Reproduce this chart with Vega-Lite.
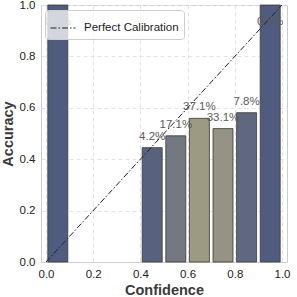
{
  "$schema": "https://vega.github.io/schema/vega-lite/v6.json",
  "width": 246,
  "height": 257,
  "autosize": {"type": "none"},
  "padding": {"left": 41, "top": 5, "right": 10, "bottom": 35},
  "config": {
    "font": "Liberation Sans",
    "view": {"stroke": "#cccccc", "strokeWidth": 1},
    "axis": {
      "domainColor": "#cccccc",
      "ticks": false,
      "gridColor": "#e2e2e2",
      "gridDash": [4, 3],
      "labelFontSize": 11.5,
      "labelColor": "#222222",
      "labelPadding": 6,
      "titleFontSize": 14.5,
      "titleFontWeight": "bold",
      "titleColor": "#3a3a3a"
    }
  },
  "layer": [
    {
      "data": {
        "values": [
          {"conf": 0.05, "acc": 1.0, "pct": 0.2, "label": "0.2%"},
          {"conf": 0.45, "acc": 0.445, "pct": 4.2, "label": "4.2%"},
          {"conf": 0.55, "acc": 0.491, "pct": 17.1, "label": "17.1%"},
          {"conf": 0.65, "acc": 0.559, "pct": 37.1, "label": "37.1%"},
          {"conf": 0.75, "acc": 0.519, "pct": 33.1, "label": "33.1%"},
          {"conf": 0.85, "acc": 0.581, "pct": 7.8, "label": "7.8%"},
          {"conf": 0.95, "acc": 1.0, "pct": 0.5, "label": "0.5%"}
        ]
      },
      "layer": [
        {
          "mark": {"type": "bar", "size": 20, "stroke": "#3a3a3a", "strokeWidth": 1, "strokeOpacity": 0.8},
          "encoding": {
            "x": {"field": "conf", "type": "quantitative", "scale": {"domain": [0, 1], "nice": false, "zero": false}, "axis": {"values": [0, 0.2, 0.4, 0.6, 0.8, 1.0], "format": ".1f", "title": "Confidence", "titlePadding": 4}},
            "y": {"field": "acc", "type": "quantitative", "scale": {"domain": [0, 1], "nice": false}, "axis": {"values": [0, 0.2, 0.4, 0.6, 0.8, 1.0], "format": ".1f", "title": "Accuracy", "titlePadding": 4}},
            "y2": {"datum": 0},
            "color": {"field": "pct", "type": "quantitative", "scale": {"domain": [0, 37.1], "range": ["#4f5b7f", "#9d9a83"], "interpolate": "rgb"}, "legend": null}
          }
        },
        {
          "transform": [{"calculate": "min(datum.acc, 0.89)", "as": "ly"}],
          "mark": {"type": "text", "fontSize": 11.5, "fill": "#5a5a5a", "baseline": "middle", "dy": -11},
          "encoding": {
            "x": {"field": "conf", "type": "quantitative"},
            "y": {"field": "ly", "type": "quantitative"},
            "text": {"field": "label"}
          }
        }
      ]
    },
    {
      "data": {"values": [{"px": 0, "py": 0}, {"px": 1, "py": 1}]},
      "mark": {"type": "line", "color": "#222222", "strokeWidth": 1},
      "encoding": {
        "x": {"field": "px", "type": "quantitative"},
        "y": {"field": "py", "type": "quantitative"},
        "strokeDash": {
          "datum": "Perfect Calibration",
          "scale": {"range": [[6, 2, 1.5, 2]]},
          "legend": {
            "title": null,
            "orient": "none",
            "legendX": 4,
            "legendY": 5,
            "fillColor": "rgba(255,255,255,0.75)",
            "strokeColor": "#cccccc",
            "cornerRadius": 3,
            "padding": 5,
            "symbolType": "stroke",
            "symbolSize": 625,
            "symbolStrokeWidth": 1,
            "symbolStrokeColor": "#222222",
            "labelFontSize": 11.5,
            "labelColor": "#222222",
            "labelOffset": 8
          }
        }
      }
    }
  ]
}
